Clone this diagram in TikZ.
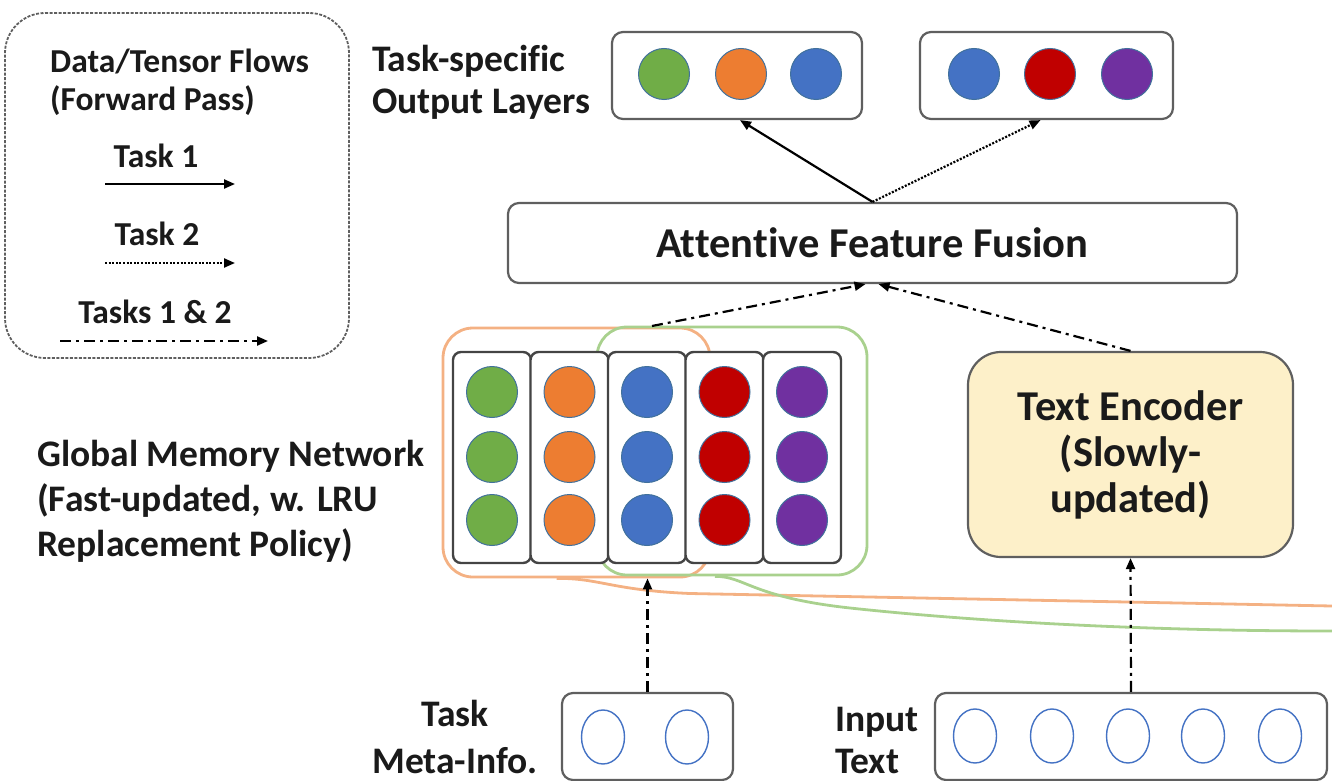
\documentclass[tikz,border=0pt]{standalone}
\usepackage{fontspec}
\setmainfont{Carlito}[Ligatures=NoCommon]
\usetikzlibrary{arrows.meta,calc,shapes.geometric}

\definecolor{cgreen}{HTML}{70AD47}
\definecolor{corange}{HTML}{ED7D31}
\definecolor{cblue}{HTML}{4472C4}
\definecolor{cred}{HTML}{C00000}
\definecolor{cpurple}{HTML}{7030A0}
\definecolor{unitedge}{HTML}{41719C}
\definecolor{grpA}{HTML}{F4B183}
\definecolor{grpB}{HTML}{A9D18E}
\definecolor{boxgray}{HTML}{5F5F5F}
\definecolor{slotgray}{HTML}{444444}
\definecolor{encfill}{HTML}{FDF0C9}
\definecolor{txt}{HTML}{1A1A1A}

\tikzset{
  layerbox/.style={draw=boxgray, line width=2.2pt, rounded corners=11pt, fill=white, inner sep=0pt},
  slot/.style={draw=slotgray, line width=2.4pt, rounded corners=8pt, fill=white,
               minimum width=78pt, minimum height=211pt, inner sep=0pt},
  unit/.style={circle, draw=unitedge, line width=1pt, minimum size=51pt, inner sep=0pt},
  inunit/.style={ellipse, draw=cblue, line width=1.4pt, minimum width=43pt, minimum height=54pt, inner sep=0pt},
  grp/.style={line width=2.8pt, rounded corners=30pt, inner sep=0pt},
  lbl/.style={font=\fontsize{37.5}{45}\selectfont\bfseries, text=txt, inner sep=0pt},
  biglbl/.style={font=\fontsize{42.5}{46}\selectfont\bfseries, text=txt},
  leglbl/.style={font=\fontsize{33.5}{38}\selectfont\bfseries, text=txt, inner sep=0pt},
  flowA/.style={-{Triangle[length=11pt,width=9pt]}, line width=2.2pt, draw=black},
  flowB/.style={flowA, dash pattern=on 2pt off 1.6pt},
  flowAB/.style={flowA, dash pattern=on 11pt off 5pt on 3pt off 5pt},
}

\begin{document}
\begin{tikzpicture}[x=1pt,y=-1pt]
\useasboundingbox (0,0) rectangle (1332,781);

% ---------- legend ----------
\node[draw=boxgray, dash pattern=on 3pt off 1.5pt, line width=1.8pt, rounded corners=40pt,
      minimum width=344pt, minimum height=345pt, inner sep=0pt] (legend) at (177,185.5) {};
\node[leglbl, anchor=west, align=left] (leghead) at (50,82) {Data/Tensor Flows\\(Forward Pass)};
\node[leglbl, anchor=base] (legA) at (156,167) {Task 1};
\node[leglbl, anchor=base] (legB) at (157,245) {Task 2};
\node[leglbl, anchor=base] (legAB) at (155,323) {Tasks 1 \& 2};
\coordinate (legAs) at (105,184);  \coordinate (legAe) at (235,184);
\coordinate (legBs) at (105,263);  \coordinate (legBe) at (235,263);
\coordinate (legABs) at (60,341);  \coordinate (legABe) at (268,341);
\draw[flowA] (legAs) -- (legAe);
\draw[flowB] (legBs) -- (legBe);
\draw[flowAB] (legABs) -- (legABe);

% ---------- task-specific output layers ----------
\node[lbl, anchor=west, align=left, font=\fontsize{37.5}{42}\selectfont\bfseries] (outlbl) at (372,82.5) {Task-specific\\Output Layers};
\node[layerbox, minimum width=250pt, minimum height=87pt] (out1) at (737,75.5) {};
\node[layerbox, minimum width=253pt, minimum height=87pt] (out2) at (1046.5,75.5) {};
\node[unit, fill=cgreen]  (o1a) at (664,74) {};
\node[unit, fill=corange] (o1b) at (741,74) {};
\node[unit, fill=cblue]   (o1c) at (816,74) {};
\node[unit, fill=cblue]   (o2a) at (974,74) {};
\node[unit, fill=cred]    (o2b) at (1050,74) {};
\node[unit, fill=cpurple] (o2c) at (1127,74) {};

% ---------- fusion ----------
\node[layerbox, minimum width=729pt, minimum height=80pt, biglbl] (fusion) at (872.5,243) {Attentive Feature Fusion};

% ---------- global memory network ----------
\node[lbl, anchor=west, align=left] (memlbl) at (37,501.5)
  {Global Memory Network\\(Fast-updated, w. LRU\\Replacement Policy)};
\node[grp, draw=grpA, minimum width=267pt, minimum height=249pt] (grpA) at (576.5,452.5) {};
\node[grp, draw=grpB, minimum width=270pt, minimum height=248pt] (grpB) at (732,451) {};
\coordinate (tailA) at (1332,606);
\coordinate (tailB) at (1332,631);
\draw[grpA, line width=2.8pt] ([xshift=-20pt]grpA.south) .. controls (600,578) and (610,590) .. (690,593.5) -- (tailA);
\draw[grpB, line width=2.8pt] ([xshift=-17pt]grpB.south) .. controls (745,576) and (750,597) .. (850,608)
      .. controls (980,622) and (1150,631) .. (tailB);

\foreach \c/\x/\col in {1/492/cgreen, 2/569.5/corange, 3/647/cblue, 4/724.5/cred, 5/802/cpurple} {
  \node[slot] (col\c) at (\x,457.5) {};
  \node[unit, fill=\col] (m\c a) at (\x,392) {};
  \node[unit, fill=\col] (m\c b) at (\x,457) {};
  \node[unit, fill=\col] (m\c c) at (\x,520) {};
}
\coordinate (memtop) at (652,326);

% ---------- text encoder ----------
\node[draw=boxgray, line width=2.2pt, rounded corners=33pt, fill=encfill, minimum width=325pt,
      minimum height=205pt, align=center, biglbl] (enc) at (1130.5,454.5) {Text Encoder\\(Slowly-\\updated)};

% ---------- inputs ----------
\node[lbl, align=center, font=\fontsize{37.5}{47}\selectfont\bfseries] (metalbl) at (455,737) {Task\\Meta-Info.};
\node[layerbox, minimum width=171pt, minimum height=87pt] (meta) at (647.5,736.5) {};
\node[inunit] (mi1) at (603,737) {};
\node[inunit] (mi2) at (687,737) {};

\node[lbl, anchor=west, align=left, font=\fontsize{37.5}{42}\selectfont\bfseries] (inlbl) at (835,740) {Input\\Text};
\node[layerbox, minimum width=392pt, minimum height=87pt] (inp) at (1131,736.5) {};
\foreach \i/\x in {1/975, 2/1052, 3/1128, 4/1203, 5/1280}
  \node[inunit] (t\i) at (\x,736) {};

% ---------- flows ----------
\draw[flowAB] (meta.north) -- (meta.north |- grpA.south);
\draw[flowAB] (inp.north) -- (enc.south);
\draw[flowAB] (memtop) -- ([xshift=-7pt]fusion.south);
\draw[flowAB] (enc.north) -- ([xshift=6pt]fusion.south);
\draw[flowA] (fusion.north) -- ([xshift=3pt]out1.south);
\draw[flowB] (fusion.north) -- ([xshift=-6pt]out2.south);

\end{tikzpicture}
\end{document}
